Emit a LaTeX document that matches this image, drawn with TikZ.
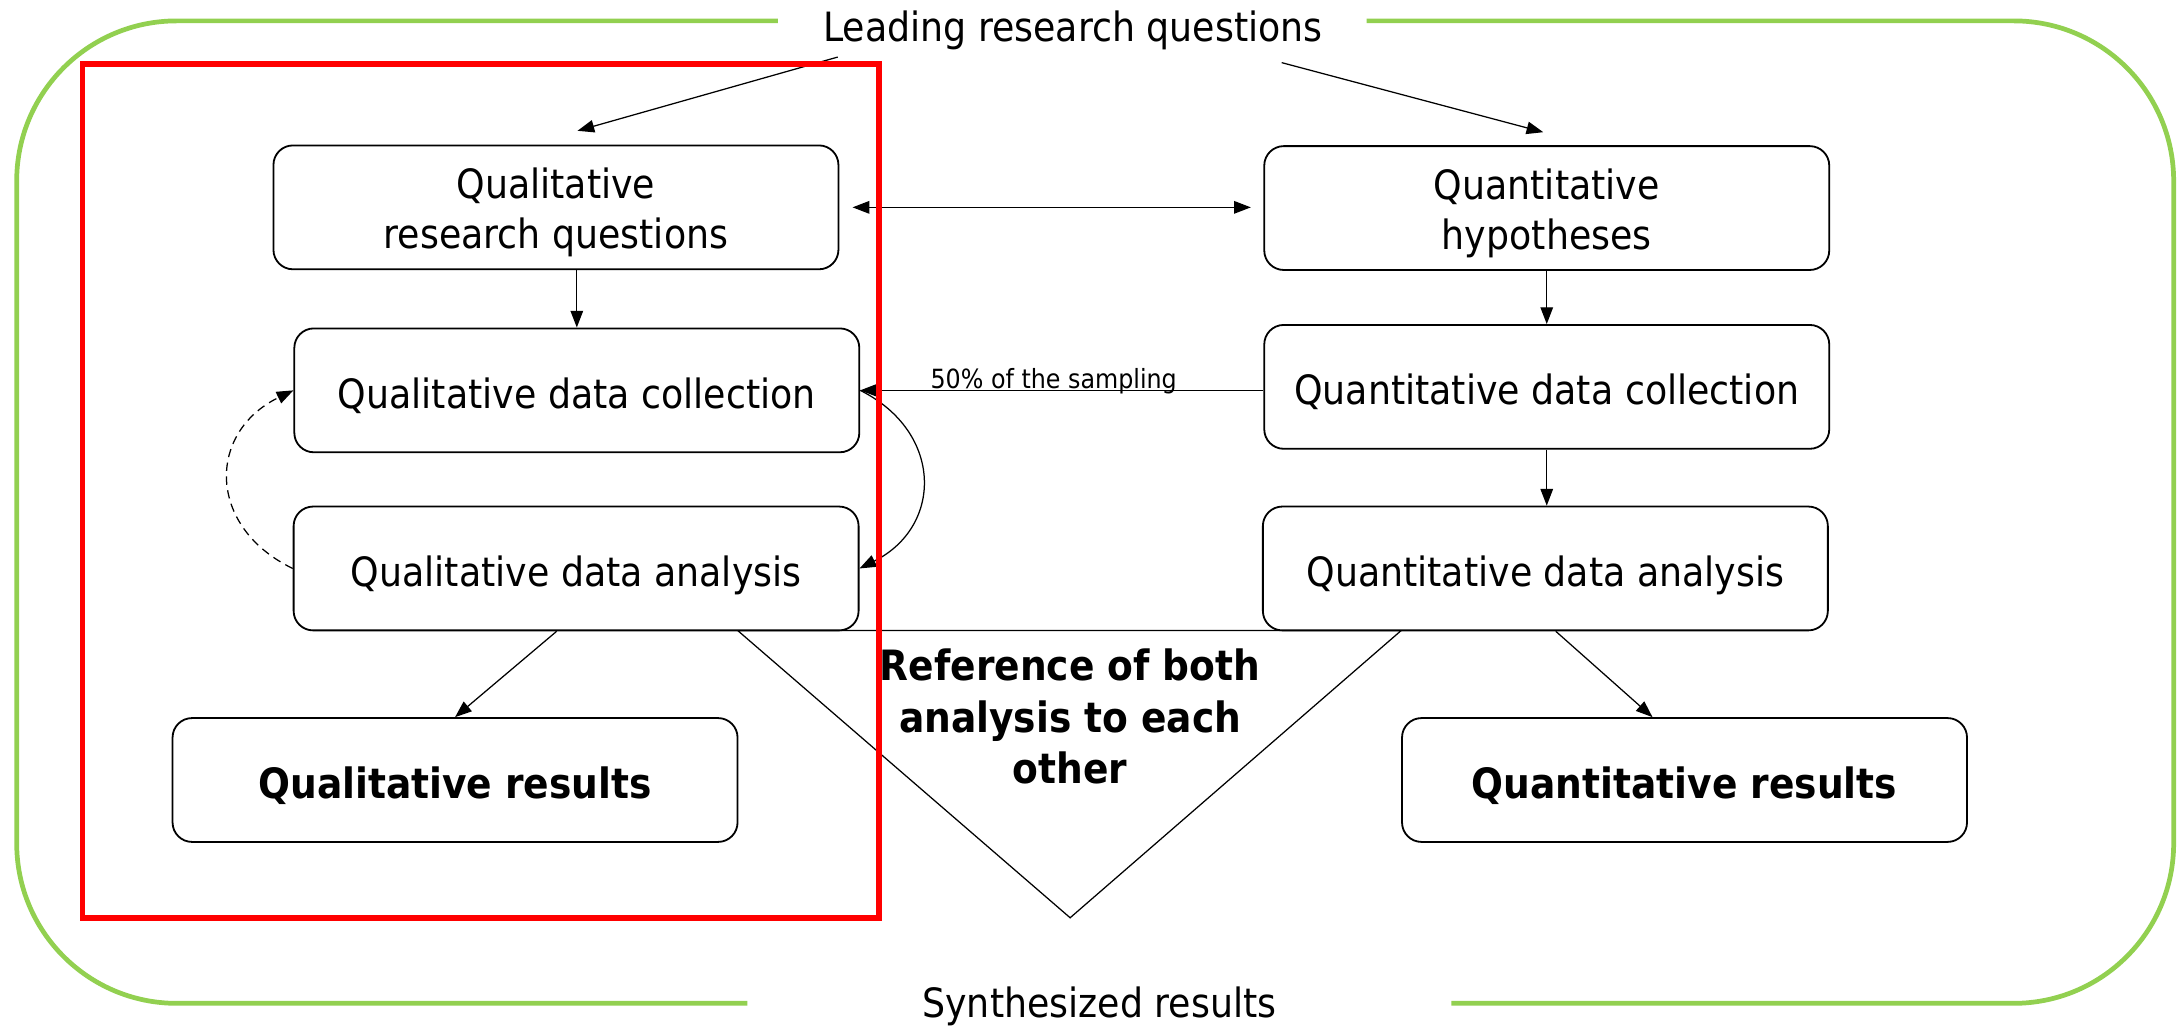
\documentclass[tikz,border=0pt]{standalone}
\usepackage{fontspec}
\setmainfont{DejaVu Sans}[FakeStretch=0.9]
\usetikzlibrary{arrows.meta,calc}
\definecolor{framegreen}{HTML}{92D050}
\definecolor{focusred}{HTML}{FF0000}
\begin{document}
\begin{tikzpicture}[x=1pt, y=-1pt,
  box/.style={draw, line width=1.3pt, rounded corners=14pt, fill=white,
    minimum width=406pt, minimum height=89pt, inner sep=0pt, align=center,
    font=\fontsize{29}{36}\selectfont},
  oneline/.style={text height=27pt, text depth=1pt},
  twoline/.style={text height=62pt, text depth=3pt},
  boldbox/.style={box, oneline, font=\fontsize{30}{36}\selectfont\bfseries},
  conn/.style={line width=0.9pt, -{Triangle[length=12pt,width=9pt]}},
  twoway/.style={line width=0.9pt, {Triangle[length=12pt,width=9pt]}-{Triangle[length=12pt,width=9pt]}},
  heading/.style={font=\fontsize{29}{36}\selectfont, inner sep=0pt, anchor=base},
]
\useasboundingbox (0,0) rectangle (1568,737);

% outer frame, open at the top and bottom titles
\draw[framegreen, line width=3.4pt, rounded corners=115pt]
  (559,15) -- (12,15) -- (12,721) -- (537,721);
\draw[framegreen, line width=3.4pt, rounded corners=115pt]
  (982,15) -- (1562,15) -- (1562,721) -- (1043,721);

\node[heading] (lead) at (771,30) {Leading research questions};
\node[heading] (synth) at (790,731) {Synthesized results};

% wedge joining both analyses
\coordinate (wl) at (530,453);
\coordinate (wr) at (1007,453);
\coordinate (wb) at (769,659.5);
\draw[line width=0.9pt] (wl) -- (wb) -- (wr) -- cycle;

% qualitative strand
\node[box, twoline] (qrq) at (399.5,149) {Qualitative\\research questions};
\node[box, oneline] (qdc) at (414.5,280.5) {Qualitative data collection};
\node[box, oneline] (qda) at (414,408.5) {Qualitative data analysis};
\node[boldbox] (qr) at (327,560.5) {Qualitative results};

% quantitative strand
\node[box, twoline] (qh) at (1111.5,149.5) {Quantitative\\hypotheses};
\node[box, oneline] (qnc) at (1111.5,278) {Quantitative data collection};
\node[box, oneline] (qna) at (1110.5,408.5) {Quantitative data analysis};
\node[boldbox] (qnr) at (1210.5,560.5) {Quantitative results};

\node[font=\fontsize{30}{37}\selectfont\bfseries, align=center, inner sep=0pt]
  (both) at (769,515) {Reference of both\\analysis to each\\other};

% connectors
\coordinate (leadL) at (602,41);
\coordinate (qrqIn) at (415,94);
\coordinate (leadR) at (921,45);
\coordinate (qhIn) at (1109,95);
\draw[conn] (leadL) -- (qrqIn);
\draw[conn] (leadR) -- (qhIn);
\draw[twoway, shorten <=9.5pt, shorten >=9pt]
  (qrq.east) -- (qh.west |- qrq.east);

\draw[conn] (qdc.north |- qrq.south) -- (qdc.north);
\draw[conn] (qh.south) -- (qnc.north);
\draw[conn] (qnc.south) -- (qnc.south |- qna.north);

\draw[conn] (qnc.west |- qdc.east) -- (qdc.east)
  node[pos=0.52, anchor=base, inner sep=0pt, yshift=1.5pt,
       font=\fontsize{19}{22}\selectfont] (samp) {50\% of the sampling};

\draw[conn] (qdc.east) .. controls +(60,30) and +(60,-30) .. (qda.east);
\draw[conn, dash pattern=on 6pt off 4pt]
  (qda.west) .. controls +(-62,-30) and +(-62,30) .. (qdc.west);

\draw[conn] ($(qda.south)+(-14,0)$) -- (qr.north);
\draw[conn] ($(qna.south)+(7.5,0)$) -- ($(qnr.north)+(-23,0)$);

% highlighted qualitative part
\draw[focusred, line width=3.8pt] (59.2,46) rectangle (631.7,659.7);
\end{tikzpicture}
\end{document}
